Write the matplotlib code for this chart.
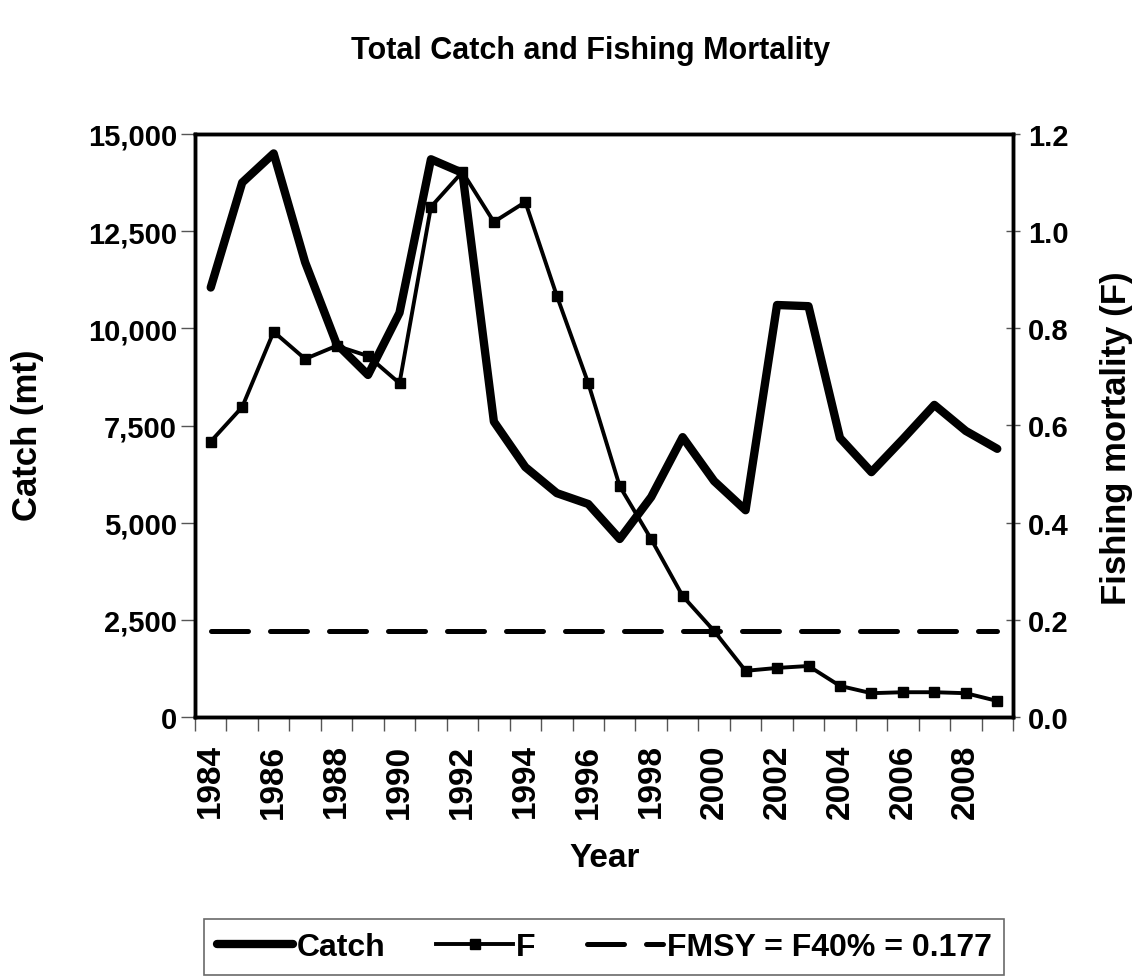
import numpy as np
import matplotlib
matplotlib.use("Agg")
import matplotlib.pyplot as plt
from matplotlib.ticker import FuncFormatter, FixedLocator
from matplotlib.lines import Line2D

plt.rcParams['font.family'] = ['Liberation Sans', 'DejaVu Sans']
plt.rcParams['font.weight'] = 'bold'

years = list(range(1984, 2010))
catch = [11050, 13750, 14500, 11700, 9600, 8800, 10400, 14350, 14000, 7600,
         6430, 5760, 5480, 4580, 5660, 7200, 6070, 5320, 10600, 10570,
         7180, 6300, 7150, 8030, 7360, 6900]
f_mort = [0.567, 0.638, 0.793, 0.737, 0.764, 0.743, 0.687, 1.050, 1.122, 1.019,
          1.060, 0.867, 0.687, 0.475, 0.366, 0.249, 0.177, 0.095, 0.101, 0.105,
          0.064, 0.049, 0.051, 0.051, 0.049, 0.033]
fmsy = 0.177

fig = plt.figure(figsize=(11.41, 9.78), dpi=100)
ax = fig.add_axes([195/1141, 1-718/978, (1013-195)/1141, (718-135)/978])
ax2 = ax.twinx()

x = np.arange(len(years))

ax.plot(x, catch, color='black', lw=6, solid_joinstyle='round',
        solid_capstyle='round', zorder=3)
ax2.plot(x, f_mort, color='black', lw=2.8, marker='s', ms=6.5, zorder=3)
ax2.plot(x, [fmsy]*len(years), color='black', lw=3.6, dashes=(7.4, 4.4),
         dash_capstyle='round', zorder=2)

ax.set_xlim(-0.5, len(years)-0.5)
ax.set_ylim(0, 15000)
ax2.set_ylim(0, 1.2)

ax.set_yticks(np.arange(0, 15001, 2500))
ax.yaxis.set_major_formatter(FuncFormatter(lambda v, p: f"{int(v):,}"))
ax2.set_yticks(np.arange(0, 1.21, 0.2))
ax2.yaxis.set_major_formatter(FuncFormatter(lambda v, p: f"{v:.1f}"))

# category boundaries as ticks, labels every other year
ax.xaxis.set_major_locator(FixedLocator(np.arange(-0.5, len(years)+0.5, 1)))
ax.set_xticklabels([])
ax.set_xticks(x[::2], minor=True)
ax.set_xticklabels([str(y) for y in years[::2]], minor=True, rotation=90,
                   fontsize=24, fontweight='bold')
ax.tick_params(axis='x', which='minor', length=0, pad=19)
ax.tick_params(axis='x', which='major', length=10, width=1, color='#555555', direction='out')

ax.tick_params(axis='y', length=10, width=1, color='#555555', direction='out',
               labelsize=21, pad=3)
ax2.tick_params(axis='y', length=10, width=1, color='#555555', direction='inout',
                labelsize=21, pad=6)
ax.tick_params(axis='y', which='both', right=False)

for a in (ax, ax2):
    for s in a.spines.values():
        s.set_linewidth(2.5)
        s.set_color('black')

ax.set_ylabel('Catch (mt)', fontsize=25, fontweight='bold')
ax.yaxis.set_label_coords(-0.185, 0.485)
ax2.set_ylabel('Fishing mortality (F)', fontsize=25, fontweight='bold')
ax2.yaxis.set_label_coords(1.106, 0.48)
ax.set_xlabel('Year', fontsize=24, fontweight='bold')
ax.xaxis.set_label_coords(0.501, -0.214)

fig.text(591/1141, 1-51/978, 'Total Catch and Fishing Mortality', ha='center',
         va='center', fontsize=22, fontweight='bold')

handles = [
    Line2D([], [], color='black', lw=6, solid_capstyle='round'),
    Line2D([], [], color='black', lw=2.8, marker='s', ms=6.5),
    Line2D([], [], color='black', lw=3.6, dashes=(7.4, 4.4), dash_capstyle='round'),
]
labels = ['Catch', 'F', 'FMSY = F40% = 0.177']
leg = fig.legend(handles, labels, loc='center', bbox_to_anchor=(604/1141, 1-948/978),
                 ncol=3, frameon=True, fancybox=False, edgecolor='#444444',
                 prop={'size': 23, 'weight': 'bold'}, handlelength=2.4, numpoints=1,
                 handletextpad=0.1, columnspacing=1.6, borderpad=0.4,
                 borderaxespad=0)
leg.get_frame().set_linewidth(1.2)

fig.savefig('out.png', dpi=100)
